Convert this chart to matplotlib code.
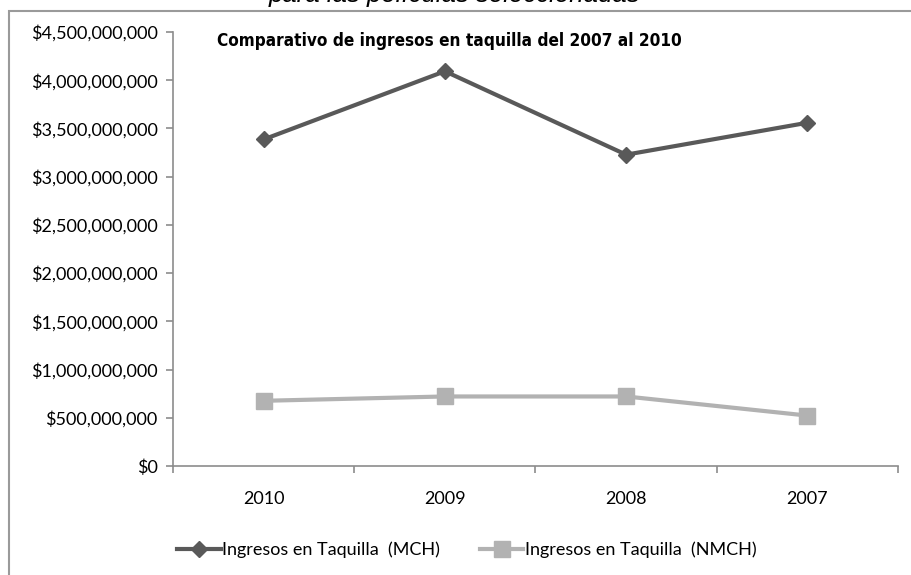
import matplotlib
matplotlib.use("Agg")
import matplotlib.pyplot as plt
from matplotlib.patches import Rectangle
from matplotlib.ticker import FuncFormatter, FixedLocator
from matplotlib.lines import Line2D

# Box-office revenue by year
years = ["2010", "2009", "2008", "2007"]
ingresos_mch = [3.386e9, 4.093e9, 3.228e9, 3.559e9]
ingresos_nmch = [0.676e9, 0.721e9, 0.721e9, 0.523e9]
series_labels = ["Ingresos en Taquilla  (MCH)", "Ingresos en Taquilla  (NMCH)"]
y_ticks = [i * 500_000_000 for i in range(10)]

W, H = 912, 575
fig = plt.figure(figsize=(W / 100, H / 100), dpi=100)
fig.patch.set_facecolor("white")

tick_font = ["Lato", "DejaVu Sans"]
title_font = ["DejaVu Sans"]

# Chart-area border
fig.patches.append(Rectangle((9 / W, -0.05), 1.2, 1 - 11 / H + 0.05,
                             transform=fig.transFigure, fill=False,
                             edgecolor="#9a9a9a", linewidth=1.5))

ax = fig.add_axes([173 / W, (H - 466) / H, 725 / W, 434 / H])
x = list(range(len(years)))

mch_color = "#595959"
nmch_color = "#b2b2b2"
ax.plot(x, ingresos_mch, color=mch_color, linewidth=3, marker="D",
        markersize=8, markeredgecolor=mch_color, markerfacecolor=mch_color,
        label=series_labels[0], zorder=3)
ax.plot(x, ingresos_nmch, color=nmch_color, linewidth=3, marker="s",
        markersize=11, markeredgecolor=nmch_color, markerfacecolor=nmch_color,
        label=series_labels[1], zorder=3)

ax.set_xlim(-0.5, len(years) - 0.5)
ax.set_ylim(0, y_ticks[-1])

ax.yaxis.set_major_locator(FixedLocator(y_ticks))
ax.yaxis.set_major_formatter(FuncFormatter(lambda v, p: f"${v:,.0f}"))
ax.set_xticks(x)
ax.set_xticklabels(years)
ax.xaxis.set_minor_locator(FixedLocator([i - 0.5 for i in range(len(years) + 1)]))

for s in ["top", "right"]:
    ax.spines[s].set_visible(False)
for s in ["left", "bottom"]:
    ax.spines[s].set_color("#8c8c8c")
    ax.spines[s].set_linewidth(1.2)

ax.tick_params(axis="y", direction="out", length=5, width=1.2, color="#8c8c8c",
               labelsize=13, pad=6)
ax.tick_params(axis="x", which="major", length=0, labelsize=13, pad=18)
ax.tick_params(axis="x", which="minor", direction="out", length=5, width=1.2,
               color="#8c8c8c")
for lab in ax.get_yticklabels() + ax.get_xticklabels():
    lab.set_fontfamily(tick_font)
    lab.set_color("black")

# Chart title inside the plot area
fig.text(449 / W, 1 - 41 / H, "Comparativo de ingresos en taquilla del 2007 al 2010",
         ha="center", va="center", fontsize=12.3, fontweight="bold",
         fontstretch="condensed", family=title_font)

# Subtitle above the chart box
fig.text(454 / W, 1 - 2 / H, "para las películas seleccionadas",
         ha="center", va="baseline", fontsize=18.5, style="italic",
         family=["Liberation Sans", "DejaVu Sans"])

handles = [
    Line2D([], [], color=mch_color, linewidth=3, marker="D", markersize=8),
    Line2D([], [], color=nmch_color, linewidth=3, marker="s", markersize=11),
]
leg = fig.legend(handles, series_labels, loc="center",
                 bbox_to_anchor=(467 / W, 1 - 550 / H), ncol=2, frameon=False,
                 handlelength=2.4, handletextpad=0.1, columnspacing=2.2,
                 prop={"family": tick_font, "size": 13})

fig.savefig("out.png", dpi=100, facecolor="white")
